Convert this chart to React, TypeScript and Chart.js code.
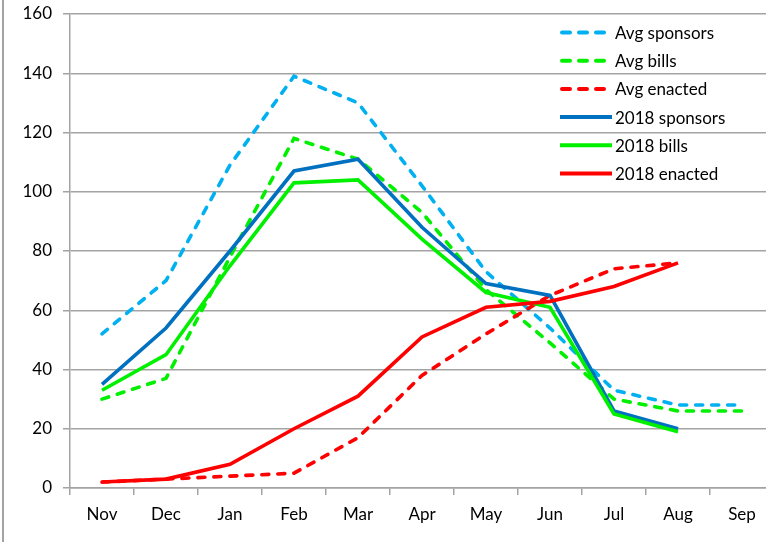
import React, { useEffect, useRef } from "react";
import { Chart, registerables } from "chart.js";

Chart.register(...registerables);

const months = ["Nov", "Dec", "Jan", "Feb", "Mar", "Apr", "May", "Jun", "Jul", "Aug", "Sep"];
const avgSponsors = [52, 70, 109, 139, 130, 102, 73, 54, 33, 28, 28];
const avgBills = [30, 37, 78, 118, 111, 93, 67, 49, 30, 26, 26];
const avgEnacted = [2, 3, 4, 5, 17, 38, 52, 65, 74, 76, null];
const sponsors2018 = [35, 54, 80, 107, 111, 88, 69, 65, 26, 20, null];
const bills2018 = [33, 45, 75, 103, 104, 84, 66, 61, 25, 19, null];
const enacted2018 = [2, 3, 8, 20, 31, 51, 61, 63, 68, 76, null];
const yMin = 0;
const yMax = 160;
const yStep = 20;

const FONT = "Lato";
const GRID = "#a3a3a3";

const legendPlugin = {
  id: "customLegend",
  afterDraw(chart: any) {
    const ctx = chart.ctx;
    chart.data.datasets.forEach((ds: any, i: number) => {
      const y = 32.5 + i * 28.2;
      ctx.save();
      ctx.strokeStyle = ds.borderColor;
      ctx.lineWidth = 4;
      if (ds.borderDash && ds.borderDash.length) {
        ctx.lineCap = "round";
        ctx.setLineDash([8, 9]);
        ctx.beginPath();
        ctx.moveTo(562, y);
        ctx.lineTo(606, y);
        ctx.stroke();
      } else {
        ctx.lineCap = "butt";
        ctx.setLineDash([]);
        ctx.beginPath();
        ctx.moveTo(560, y);
        ctx.lineTo(612, y);
        ctx.stroke();
      }
      ctx.setLineDash([]);
      ctx.fillStyle = "#000";
      ctx.font = `17px ${FONT}`;
      ctx.textBaseline = "middle";
      ctx.textAlign = "left";
      ctx.fillText(ds.label, 615, y + 1);
      ctx.restore();
    });
  },
};

function line(label: string, data: (number | null)[], color: string, dashed: boolean, idx: number) {
  return {
    label,
    data,
    borderColor: color,
    backgroundColor: color,
    borderWidth: 3.6,
    borderDash: dashed ? [7, 9] : [],
    borderCapStyle: dashed ? "round" : "butt",
    borderJoinStyle: "miter",
    pointRadius: 0,
    pointHoverRadius: 0,
    tension: 0,
    fill: false,
    spanGaps: false,
    order: 10 - idx,
  };
}

export default function App() {
  const ref = useRef<HTMLCanvasElement | null>(null);

  useEffect(() => {
    if (!ref.current) return;
    const chart = new Chart(ref.current, {
      type: "line",
      data: {
        labels: months,
        datasets: [
          line("Avg sponsors", avgSponsors, "#00b0f0", true, 0),
          line("Avg bills", avgBills, "#00f000", true, 1),
          line("Avg enacted", avgEnacted, "#ff0000", true, 2),
          line("2018 sponsors", sponsors2018, "#0070c0", false, 3),
          line("2018 bills", bills2018, "#00f000", false, 4),
          line("2018 enacted", enacted2018, "#ff0000", false, 5),
        ] as any,
      },
      options: {
        responsive: false,
        animation: false,
        devicePixelRatio: 1,
        layout: { padding: { top: 14, left: 0, right: 2, bottom: 0 } },
        plugins: {
          legend: { display: false },
          title: { display: false },
          tooltip: { enabled: false },
        },
        scales: {
          x: {
            type: "category",
            offset: true,
            grid: {
              offset: true,
              drawOnChartArea: false,
              drawTicks: true,
              tickLength: 7,
              color: GRID,
              lineWidth: 1.5,
            },
            border: { display: true, color: GRID, width: 1.5 },
            ticks: {
              color: "#000",
              font: { family: FONT, size: 17 },
              padding: 9,
              maxRotation: 0,
              autoSkip: false,
            },
            afterFit: (s: any) => {
              s.height = 54;
              s.paddingLeft = 0;
              s.paddingRight = 0;
            },
          },
          y: {
            min: yMin,
            max: yMax,
            ticks: {
              stepSize: yStep,
              color: "#000",
              font: { family: FONT, size: 17 },
              padding: 11,
            },
            grid: {
              color: GRID,
              lineWidth: 1.5,
              tickLength: 7,
              drawTicks: true,
            },
            border: { display: true, color: GRID, width: 1.5 },
            afterFit: (s: any) => {
              s.width = 70;
              s.paddingTop = 0;
              s.paddingBottom = 0;
            },
          },
        },
      },
      plugins: [legendPlugin],
    });
    return () => chart.destroy();
  }, []);

  return (
    <div
      style={{
        position: "fixed",
        left: 0,
        top: 0,
        width: 766,
        height: 542,
        overflow: "hidden",
        background: "#fff",
      }}
    >
      <canvas
        ref={ref}
        width={776}
        height={542}
        style={{ position: "absolute", left: 0, top: 0, width: 776, height: 542 }}
      />
      <div
        style={{
          position: "absolute",
          left: 2,
          top: 0,
          width: 1.5,
          height: 542,
          background: GRID,
        }}
      />
    </div>
  );
}
